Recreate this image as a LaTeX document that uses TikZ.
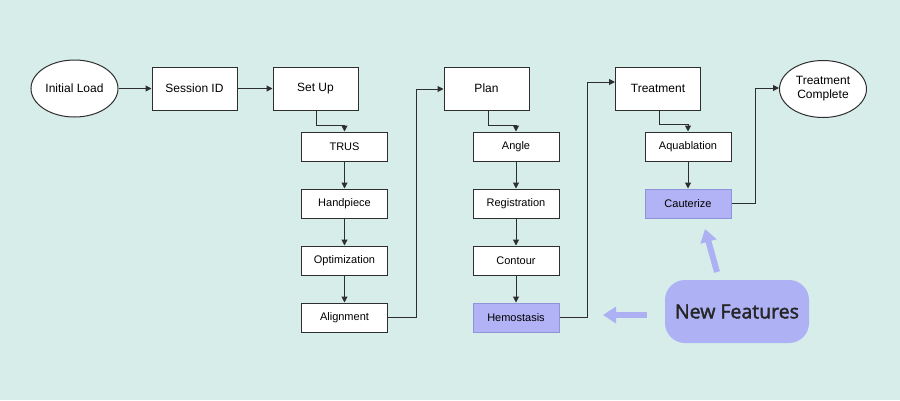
\documentclass[tikz,border=0pt]{standalone}
\usepackage{fontspec}
\setmainfont{Liberation Sans}
\newfontfamily\nffont[FakeBold=2]{Open Sans}
\usetikzlibrary{shapes.geometric,arrows.meta}
\definecolor{bgc}{HTML}{D6EDEA}
\definecolor{linec}{HTML}{2E2E2E}
\definecolor{purp}{HTML}{B1B3F6}
\definecolor{purpb}{HTML}{8F93D8}
\definecolor{nfc}{HTML}{AEB2F4}
\definecolor{nfa}{HTML}{ADB0F3}
\begin{document}
\begin{tikzpicture}[x=1pt,y=-1pt,
  bigbox/.style={draw=linec,line width=1pt,fill=white,minimum width=85pt,minimum height=43pt,inner sep=0pt,font=\fontsize{12}{14}\selectfont},
  smallbox/.style={draw=linec,line width=1pt,fill=white,minimum width=86pt,minimum height=29pt,inner sep=0pt,font=\fontsize{11}{13}\selectfont},
  newbox/.style={smallbox,fill=purp,draw=purpb},
  oval/.style={ellipse,draw=linec,line width=1pt,fill=white,minimum width=87pt,minimum height=57pt,inner sep=0pt,align=center,font=\fontsize{12}{14}\selectfont},
  conn/.style={draw=linec,line width=1pt,-{Triangle[length=6pt,width=6pt]}},
  bigarrow/.style={draw=nfa,line width=6pt,-{Triangle[length=13pt,width=16pt]}}
]
\fill[bgc] (0,0) rectangle (900,400);
\useasboundingbox (0,0) rectangle (900,400);

\node[oval] (init) at (74.5,88.5) {Initial Load};
\node[bigbox] (sess) at (194.5,88.5) {Session ID};
\node[bigbox] (setup) at (315.5,88.5) {Set Up};
\node[smallbox] (trus) at (344.5,146.5) {TRUS};
\node[smallbox] (hand) at (344.5,203.5) {Handpiece};
\node[smallbox] (opt) at (344.5,260.5) {Optimization};
\node[smallbox] (align) at (344.5,317.5) {Alignment};

\node[bigbox] (plan) at (486.5,88.5) {Plan};
\node[smallbox] (angle) at (516,146.5) {Angle};
\node[smallbox] (reg) at (516,203.5) {Registration};
\node[smallbox] (cont) at (516,260.5) {Contour};
\node[newbox] (hemo) at (516,317.5) {Hemostasis};

\node[bigbox] (treat) at (658,88.5) {Treatment};
\node[smallbox] (aqua) at (688,146.5) {Aquablation};
\node[newbox] (caut) at (688,203.5) {Cauterize};
\node[oval] (done) at (823,89) {Treatment\\Complete};

\node[rounded corners=20pt,fill=nfc,minimum width=144pt,minimum height=63pt,font=\nffont\fontsize{19.5}{22}\selectfont,text=black!85] (nf) at (737,311.5) {New Features};

% connector bend points
\coordinate (s1) at (316,125);
\coordinate (a1) at (416,317.5);
\coordinate (a2) at (416,89);
\coordinate (p1) at (488,125);
\coordinate (h1) at (587,317.5);
\coordinate (h2) at (587,82);
\coordinate (t1) at (659,124);
\coordinate (c1) at (755,203.5);
\coordinate (c2) at (755,88);

\coordinate (nfl0) at (647,315);
\coordinate (nfl1) at (603,315);
\coordinate (nfu0) at (717,272);
\coordinate (nfu1) at (705,229);

\draw[conn] (init) -- (sess);
\draw[conn] (sess) -- (setup);
\draw[conn] (setup.south -| s1) -- (s1) -| (trus.north);
\draw[conn] (trus) -- (hand);
\draw[conn] (hand) -- (opt);
\draw[conn] (opt) -- (align);
\draw[conn] (align.east) -- (a1) -- (a2) -- (plan.west |- a2);
\draw[conn] (plan.south -| p1) -- (p1) -| (angle.north);
\draw[conn] (angle) -- (reg);
\draw[conn] (reg) -- (cont);
\draw[conn] (cont) -- (hemo);
\draw[conn] (hemo.east) -- (h1) -- (h2) -- (treat.west |- h2);
\draw[conn] (treat.south -| t1) -- (t1) -| (aqua.north);
\draw[conn] (aqua) -- (caut);
\draw[conn] (caut.east) -- (c1) -- (c2) -- (done.west |- c2);

\draw[bigarrow] (nfl0) -- (nfl1);
\draw[bigarrow] (nfu0) -- (nfu1);
\end{tikzpicture}
\end{document}
